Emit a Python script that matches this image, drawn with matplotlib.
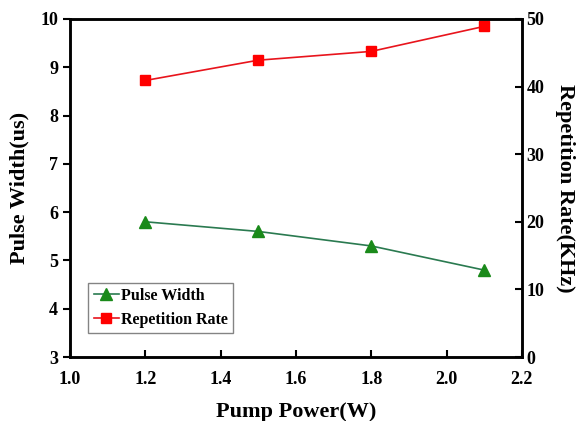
import matplotlib.pyplot as plt

plt.rcParams['font.family'] = 'Liberation Serif'
plt.rcParams['font.weight'] = 'bold'

pump_power = [1.2, 1.5, 1.8, 2.1]
pulse_width = [5.8, 5.6, 5.3, 4.8]
rep_rate = [40.9, 43.9, 45.2, 48.9]

fig = plt.figure(figsize=(5.8, 4.21), dpi=100)
ax = fig.add_axes([0.1207, 0.152, 0.779, 0.803])
ax2 = ax.twinx()

l1, = ax.plot(pump_power, pulse_width, color='#2a7a50', marker='^', markersize=8,
              markerfacecolor='#1a8a1a', markeredgecolor='#1a8a1a', lw=1.2, label='Pulse Width')
l2, = ax2.plot(pump_power, rep_rate, color='#e8141c', marker='s', markersize=7,
               markerfacecolor='#ff0000', markeredgecolor='#ff0000', lw=1.2, label='Repetition Rate')

ax.set_xlim(1.0, 2.2)
ax.set_ylim(3, 10)
ax2.set_ylim(0, 50)
ax.set_xticks([1.0, 1.2, 1.4, 1.6, 1.8, 2.0, 2.2])
ax.set_yticks(range(3, 11))
ax2.set_yticks(range(0, 51, 10))

for s in ax.spines.values():
    s.set_linewidth(1.8)
for s in ax2.spines.values():
    s.set_linewidth(1.8)

ax.tick_params(axis='y', direction='out', length=5, width=1.5, labelsize=13)
ax.tick_params(axis='x', direction='in', length=5, width=1.5, labelsize=13, pad=10)
ax2.tick_params(axis='y', direction='in', length=5, width=1.5, labelsize=13)

ax.set_xlabel('Pump Power(W)', fontsize=16, fontweight='bold', labelpad=10)
ax.set_ylabel('Pulse Width(us)', fontsize=16, fontweight='bold', labelpad=8)
ax2.set_ylabel('Repetition Rate(KHz)', fontsize=16, fontweight='bold', rotation=270, labelpad=22)

leg = ax.legend([l1, l2], ['Pulse Width', 'Repetition Rate'], loc='lower left',
                bbox_to_anchor=(0.04, 0.07), fontsize=11.5, fancybox=False,
                handlelength=1.6, handletextpad=0.1, borderpad=0.35, labelspacing=0.45,
                borderaxespad=0, handleheight=0.9)
leg.get_frame().set_edgecolor('#666666')
leg.get_frame().set_linewidth(1.0)

plt.savefig('out.png', dpi=100)
